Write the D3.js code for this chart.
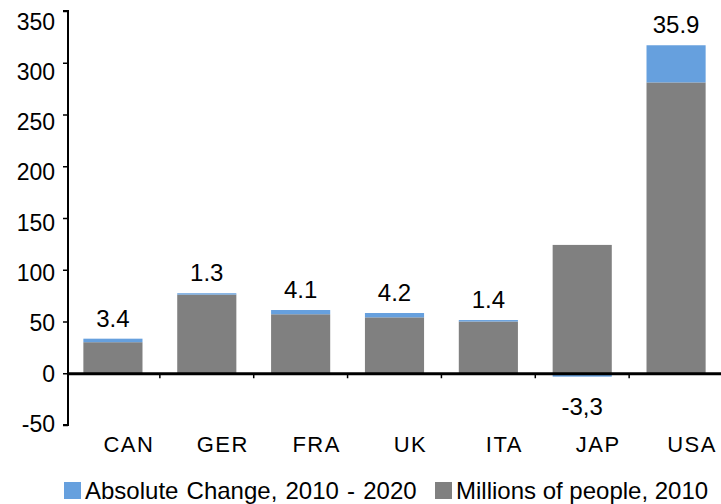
<!DOCTYPE html>
<html>
<head>
<meta charset="utf-8">
<script src="https://cdn.jsdelivr.net/npm/d3@7"></script>
<style>
  body { margin: 0; background: #fff; }
  text { font-family: "Liberation Sans", Arial, sans-serif; fill: #000; }
</style>
</head>
<body>
<div id="chart"></div>
<script>
// data
var countries = ["CAN", "GER", "FRA", "UK", "ITA", "JAP", "USA"];
var people2010 = [30, 76, 57, 54, 50, 124, 281];
var change = [3.4, 1.3, 4.1, 4.2, 1.4, -3.3, 35.9];
var changeLabels = ["3.4", "1.3", "4.1", "4.2", "1.4", "-3,3", "35.9"];
var yTicks = [-50, 0, 50, 100, 150, 200, 250, 300, 350];

var svgWidth = 721;
var svgHeight = 504;

var blue = "#66a0de";
var gray = "#808080";

var svg = d3.select("#chart")
  .append("svg")
  .attr("width", svgWidth)
  .attr("height", svgHeight);

var x = d3.scaleBand()
  .domain(countries)
  .range([66, 723])
  .paddingInner(0.37)
  .paddingOuter(0.185);

var y = d3.scaleLinear()
  .domain([-50, 350])
  .range([425, 11]);

// the tick labels in the original sit on a slightly tighter spacing than the ticks
var yLabel = d3.scaleLinear()
  .domain([-50, 350])
  .range([424, 21.7]);

var rows = countries.map(function(c, i) {
  return { name: c, base: people2010[i], change: change[i], label: changeLabels[i] };
});

// gray bars (2010)
svg.append("g").selectAll("rect")
  .data(rows)
  .enter()
  .append("rect")
  .attr("x", d => x(d.name))
  .attr("width", x.bandwidth())
  .attr("y", d => y(d.base))
  .attr("height", d => y(0) - y(d.base))
  .attr("fill", gray);

// blue bars (change), stacked on top or below zero when negative
svg.append("g").selectAll("rect")
  .data(rows)
  .enter()
  .append("rect")
  .attr("x", d => x(d.name))
  .attr("width", x.bandwidth())
  .attr("y", d => d.change >= 0 ? y(d.base + d.change) : y(0))
  .attr("height", d => Math.abs(y(0) - y(d.change)))
  .attr("fill", blue);

// value labels
svg.append("g").selectAll("text")
  .data(rows)
  .enter()
  .append("text")
  .attr("x", d => x(d.name) + x.bandwidth() / 2)
  .attr("y", d => d.change >= 0 ? y(d.base + d.change) - 12 : y(d.change) + 38)
  .attr("text-anchor", "middle")
  .style("font-size", "24px")
  .text(d => d.label);

// y axis
var yAxis = svg.append("g")
  .attr("transform", "translate(68,0)")
  .call(d3.axisLeft(y).tickValues(yTicks).tickSize(5).tickPadding(8).tickFormat(d => String(d)));
yAxis.select(".domain").attr("stroke", "#000").attr("stroke-width", 2).attr("d", "M-5," + y(350) + "H0V" + y(-50) + "H-5");
yAxis.selectAll(".tick line").attr("stroke", "#000").attr("stroke-width", 1.5);
yAxis.selectAll(".tick text")
  .attr("y", d => yLabel(d) - y(d))
  .style("font-size", "23px")
  .style("font-family", "'Liberation Sans', Arial, sans-serif")
  .attr("fill", "#000");

// x axis at zero
var xAxis = svg.append("g")
  .attr("transform", "translate(0," + y(0) + ")");
xAxis.append("line")
  .attr("x1", 67).attr("x2", 721)
  .attr("y1", 0.5).attr("y2", 0.5)
  .attr("stroke", "#000")
  .attr("stroke-width", 3);
xAxis.selectAll("line.tick")
  .data(countries.slice(1))
  .enter()
  .append("line")
  .attr("class", "tick")
  .attr("x1", d => x(d) - x.step() * 0.185)
  .attr("x2", d => x(d) - x.step() * 0.185)
  .attr("y1", 0).attr("y2", 5)
  .attr("stroke", "#000")
  .attr("stroke-width", 1.5);

// category labels (sit a bit right of the bars, as in the original)
svg.append("g").selectAll("text")
  .data(countries)
  .enter()
  .append("text")
  .attr("x", d => x(d) + x.bandwidth() / 2 + 16)
  .attr("y", 452)
  .attr("text-anchor", "middle")
  .style("font-size", "22px")
  .style("letter-spacing", "1.5px")
  .text(d => d);

// legend
var legendItems = [
  { label: "Absolute Change, 2010 - 2020", color: blue, x: 64, spacing: "1.5px" },
  { label: "Millions of people, 2010", color: gray, x: 435, spacing: "0px" }
];
var legend = svg.append("g");
legendItems.forEach(function(item) {
  legend.append("rect")
    .attr("x", item.x)
    .attr("y", 482)
    .attr("width", 17)
    .attr("height", 17)
    .attr("fill", item.color);
  legend.append("text")
    .attr("x", item.x + 21)
    .attr("y", 499)
    .style("font-size", "24px")
    .style("word-spacing", item.spacing)
    .text(item.label);
});
</script>
</body>
</html>
